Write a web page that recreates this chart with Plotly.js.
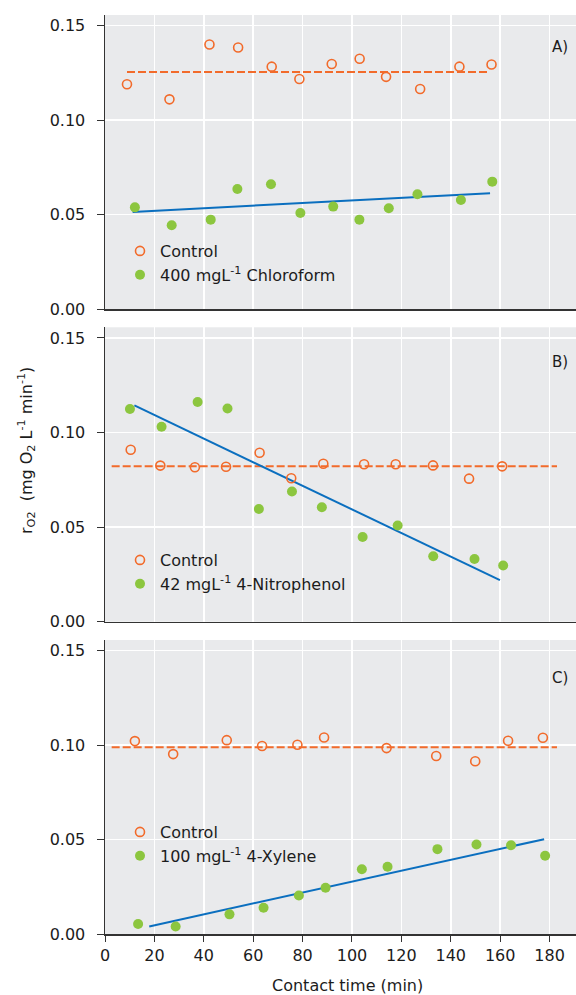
<!DOCTYPE html>
<html>
<head>
<meta charset="utf-8">
<script src="https://cdn.plot.ly/plotly-3.0.1.min.js"></script>
<style>html,body{margin:0;padding:0;background:#fff;}#chart{width:576px;height:995px;}</style>
</head>
<body>
<div id="chart"></div>
<script>
// ---- Panel A: Chloroform ----
const aCtrlT = [8.9, 26.1, 42.3, 53.9, 67.5, 78.7, 91.8, 103.1, 113.8, 127.6, 143.5, 156.5];
const aCtrlR = [0.1190, 0.1110, 0.1400, 0.1384, 0.1283, 0.1218, 0.1297, 0.1325, 0.1229, 0.1165, 0.1283, 0.1294];
const aTrtT = [12.1, 27.0, 42.8, 53.6, 67.2, 79.1, 92.4, 103.0, 114.9, 126.5, 144.1, 156.8];
const aTrtR = [0.0539, 0.0444, 0.0474, 0.0636, 0.0661, 0.0509, 0.0543, 0.0474, 0.0534, 0.0608, 0.0578, 0.0675];
const aMeanT = [8.9, 155.0];
const aMeanR = [0.1255, 0.1255];
const aFitT = [11.2, 155.9];
const aFitR = [0.0515, 0.0613];

// ---- Panel B: 4-Nitrophenol ----
const bCtrlT = [10.4, 22.4, 36.4, 49.0, 62.6, 75.4, 88.4, 104.9, 117.7, 132.8, 147.4, 160.8];
const bCtrlR = [0.0909, 0.0825, 0.0816, 0.0819, 0.0893, 0.0758, 0.0835, 0.0832, 0.0832, 0.0826, 0.0756, 0.0821];
const bTrtT = [10.1, 22.9, 37.5, 49.6, 62.3, 75.7, 87.8, 104.3, 118.5, 132.9, 149.6, 161.2];
const bTrtR = [0.1124, 0.1030, 0.1161, 0.1127, 0.0596, 0.0688, 0.0605, 0.0448, 0.0508, 0.0346, 0.0331, 0.0297];
const bMeanT = [2.7, 183.0];
const bMeanR = [0.0821, 0.0821];
const bFitT = [11.9, 159.9];
const bFitR = [0.1143, 0.0220];

// ---- Panel C: 4-Xylene ----
const cCtrlT = [12.1, 27.6, 49.3, 63.6, 77.9, 88.7, 114.0, 134.1, 149.9, 163.2, 177.3];
const cCtrlR = [0.1021, 0.0952, 0.1026, 0.0995, 0.1002, 0.1040, 0.0984, 0.0942, 0.0914, 0.1023, 0.1039];
const cTrtT = [13.4, 28.6, 50.4, 64.2, 78.5, 89.3, 104.0, 114.4, 134.6, 150.4, 164.4, 178.2];
const cTrtR = [0.0053, 0.0040, 0.0104, 0.0139, 0.0204, 0.0245, 0.0343, 0.0356, 0.0449, 0.0474, 0.0470, 0.0414];
const cMeanT = [2.7, 183.0];
const cMeanR = [0.0988, 0.0988];
const cFitT = [17.9, 177.8];
const cFitR = [0.0040, 0.0502];

const ctrlName = "Control";
const trtNames = ["400 mgL<sup>-1</sup> Chloroform", "42 mgL<sup>-1</sup> 4-Nitrophenol", "100 mgL<sup>-1</sup> 4-Xylene"];
const panelLabels = ["A)", "B)", "C)"];
const xTicks = [0, 20, 40, 60, 80, 100, 120, 140, 160, 180];
const yTicks = [0, 0.05, 0.10, 0.15];
const yTickText = ["0.00", "0.05", "0.10", "0.15"];

const ORANGE = "#f26b2b", GREEN = "#8cc63f", BLUE = "#0b6fbf";
const FONT = "DejaVu Sans, Verdana, sans-serif";
const TXT = "#1c1c1c";

const panels = [
  {ct: aCtrlT, cr: aCtrlR, tt: aTrtT, tr: aTrtR, mt: aMeanT, mr: aMeanR, ft: aFitT, fr: aFitR},
  {ct: bCtrlT, cr: bCtrlR, tt: bTrtT, tr: bTrtR, mt: bMeanT, mr: bMeanR, ft: bFitT, fr: bFitR},
  {ct: cCtrlT, cr: cCtrlR, tt: cTrtT, tr: cTrtR, mt: cMeanT, mr: cMeanR, ft: cFitT, fr: cFitR}
];

const traces = [];
panels.forEach((p, i) => {
  const xa = i === 0 ? "x" : "x" + (i + 1);
  const ya = i === 0 ? "y" : "y" + (i + 1);
  const lg = i === 0 ? "legend" : "legend" + (i + 1);
  traces.push({x: p.mt, y: p.mr, xaxis: xa, yaxis: ya, mode: "lines", showlegend: false,
    line: {color: ORANGE, width: 2, dash: "8px,3px"}, hoverinfo: "skip"});
  traces.push({x: p.ft, y: p.fr, xaxis: xa, yaxis: ya, mode: "lines", showlegend: false,
    line: {color: BLUE, width: 2}, hoverinfo: "skip"});
  traces.push({x: p.ct, y: p.cr, xaxis: xa, yaxis: ya, mode: "markers", name: ctrlName, legend: lg,
    marker: {symbol: "circle-open", size: 9, color: ORANGE, line: {width: 1.6, color: ORANGE}}});
  traces.push({x: p.tt, y: p.tr, xaxis: xa, yaxis: ya, mode: "markers", name: trtNames[i], legend: lg,
    marker: {symbol: "circle", size: 10, color: GREEN}});
});

const T = 15, B = 61, H = 995, PH = H - T - B; // plot area px
const toPaper = px => (H - B - px) / PH;
const domains = [[toPaper(309.3), 1], [toPaper(621.7), toPaper(327.3)], [0, toPaper(640)]];

const layout = {
  width: 576, height: 995,
  margin: {l: 105, r: 0, t: T, b: B},
  paper_bgcolor: "#ffffff",
  plot_bgcolor: "#e9eaec",
  font: {family: FONT, size: 16, color: TXT},
  showlegend: true,
  annotations: [],
};

for (let i = 0; i < 3; i++) {
  const s = i === 0 ? "" : String(i + 1);
  layout["xaxis" + s] = {
    domain: [0, 1], anchor: "y" + s, range: [0, 190.7],
    tickvals: xTicks, showgrid: true, gridcolor: "#ffffff", gridwidth: 1.5,
    showline: true, linecolor: "#333", linewidth: 1.5, zeroline: false,
    showticklabels: i === 2, ticks: i === 2 ? "outside" : "", ticklen: 6, tickcolor: "#333",
    tickfont: {family: FONT, size: 16, color: TXT}
  };
  layout["yaxis" + s] = {
    domain: domains[i], anchor: "x" + s, range: [0, 0.1556],
    tickvals: yTicks, ticktext: yTickText, showgrid: true, gridcolor: "#ffffff", gridwidth: 1.5,
    showline: true, linecolor: "#333", linewidth: 1.5, zeroline: false,
    ticks: "outside", ticklen: 7, tickcolor: "#333", ticklabelstandoff: 8,
    tickfont: {family: FONT, size: 16, color: TXT}
  };
  const lgKey = i === 0 ? "legend" : "legend" + (i + 1);
  const lgTop = [234, 543, 815][i];
  layout[lgKey] = {
    x: (120 - 105) / 471, xanchor: "left", y: toPaper(lgTop), yanchor: "top",
    bgcolor: "rgba(0,0,0,0)", borderwidth: 0, tracegroupgap: 0,
    font: {family: FONT, size: 16, color: TXT}
  };
  layout.annotations.push({
    text: panelLabels[i], xref: "paper", yref: "paper", x: 1, xanchor: "right", xshift: -6,
    y: toPaper([46.7, 362.3, 677.7][i]), yanchor: "middle", showarrow: false,
    font: {family: FONT, size: 15, color: TXT}
  });
}

layout.annotations.push({
  text: "Contact time (min)", xref: "paper", yref: "paper",
  x: (347 - 105) / 471, y: toPaper(985), xanchor: "center", yanchor: "middle", showarrow: false,
  font: {family: FONT, size: 16, color: TXT}
});
layout.annotations.push({
  text: "r<sub>O2</sub>  (mg O<sub>2</sub> L<sup>-1</sup> min<sup>-1</sup>)", xref: "paper", yref: "paper",
  x: (26 - 105) / 471, y: toPaper(451), xanchor: "center", yanchor: "middle", textangle: -90, showarrow: false,
  font: {family: FONT, size: 16, color: TXT}
});

Plotly.newPlot("chart", traces, layout, {displayModeBar: false, staticPlot: true});
</script>
</body>
</html>
